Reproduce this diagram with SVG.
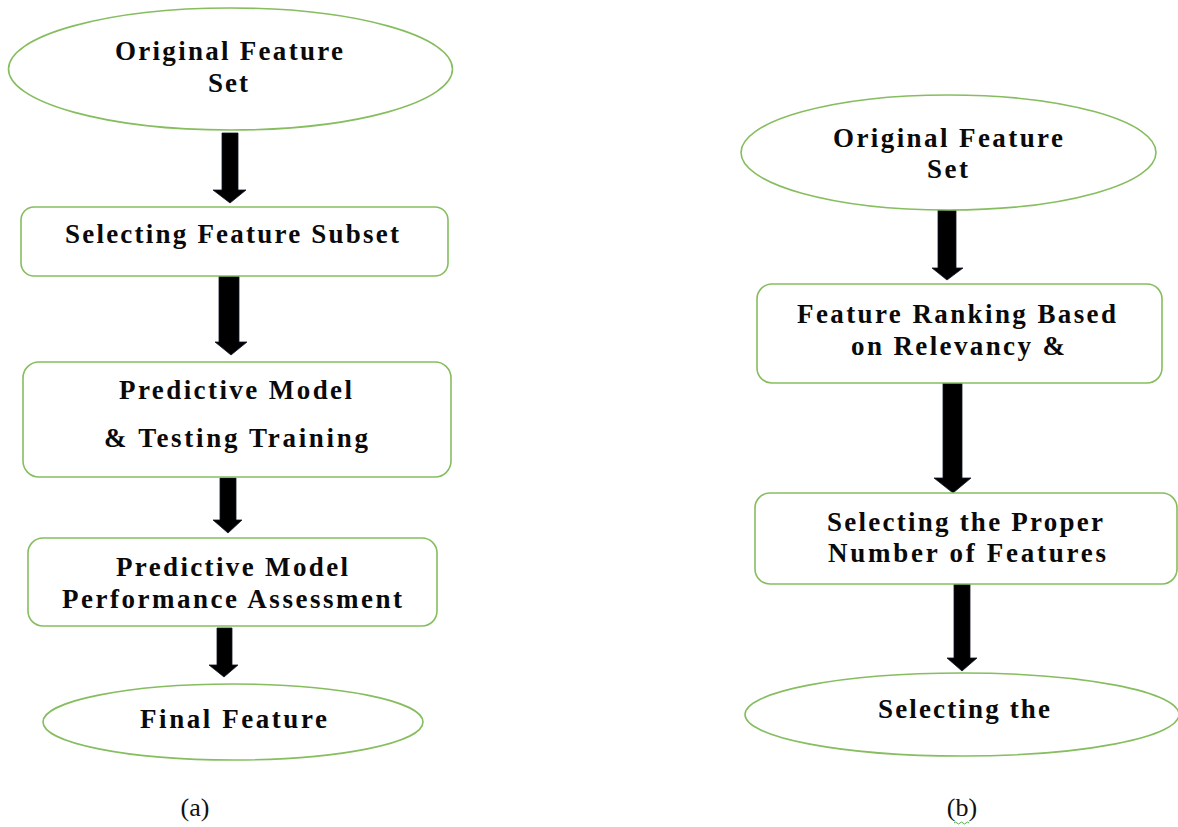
<svg xmlns="http://www.w3.org/2000/svg" width="1178" height="827" viewBox="0 0 1178 827">
<style>
.n{fill:#fff;stroke:#86bd5f;stroke-width:1.6}
.t{font-family:"Liberation Serif","Times New Roman",serif;font-weight:bold;font-size:27px;fill:#0a0a0a}
.c{font-family:"Liberation Serif","Times New Roman",serif;font-size:26px;fill:#111;text-anchor:middle}
.a{fill:#000;stroke:#10182a;stroke-width:0.8}
</style>
<rect width="1178" height="827" fill="#fff"/>
<g id="connectors">
<path class="a" d="M222,133 L238,133 L238,190 L246,190 L230,203 L213,190 L222,190 Z"/>
<path class="a" d="M219,274 L239,274 L239,342 L247,342 L231,355 L215,342 L219,342 Z"/>
<path class="a" d="M220,478 L236,478 L236,520 L242,520 L228,533 L213,520 L220,520 Z"/>
<path class="a" d="M217,628 L232,628 L232,665 L238,665 L224,677 L209,665 L217,665 Z"/>
<path class="a" d="M938,210 L956,210 L956,268 L963,268 L947,280 L932,268 L938,268 Z"/>
<path class="a" d="M943,383 L962,383 L962,478 L971,478 L953,493 L934,478 L943,478 Z"/>
<path class="a" d="M954,584 L970,584 L970,658 L977,658 L962,671 L947,658 L954,658 Z"/>
</g>
<g id="a-original">
<ellipse class="n" cx="230.5" cy="69" rx="222" ry="61"/>
<text class="t" x="115" y="60" textLength="228" lengthAdjust="spacing">Original Feature</text>
<text class="t" x="208" y="92" textLength="40" lengthAdjust="spacing">Set</text>
</g>
<g id="a-subset">
<rect class="n" x="21" y="207" width="427" height="69" rx="13"/>
<text class="t" x="65" y="243" textLength="334" lengthAdjust="spacing">Selecting Feature Subset</text>
</g>
<g id="a-training">
<rect class="n" x="23" y="362" width="428" height="115" rx="16"/>
<text class="t" x="119" y="399" textLength="233" lengthAdjust="spacing">Predictive Model</text>
<text class="t" x="104" y="447" textLength="264" lengthAdjust="spacing">&amp; Testing Training</text>
</g>
<g id="a-assessment">
<rect class="n" x="28" y="538" width="409" height="88" rx="15"/>
<text class="t" x="116" y="576" textLength="232" lengthAdjust="spacing">Predictive Model</text>
<text class="t" x="62" y="608" textLength="340" lengthAdjust="spacing">Performance Assessment</text>
</g>
<g id="a-final">
<ellipse class="n" cx="233" cy="722" rx="190" ry="38"/>
<text class="t" x="140" y="728" textLength="187" lengthAdjust="spacing">Final Feature</text>
</g>
<text class="c" x="195" y="816">(a)</text>
<g id="b-original">
<ellipse class="n" cx="948.5" cy="152.5" rx="207.5" ry="57.5"/>
<text class="t" x="833" y="147" textLength="230" lengthAdjust="spacing">Original Feature</text>
<text class="t" x="927" y="178" textLength="41" lengthAdjust="spacing">Set</text>
</g>
<g id="b-ranking">
<rect class="n" x="757" y="284" width="405" height="99" rx="15"/>
<text class="t" x="797" y="323" textLength="319" lengthAdjust="spacing">Feature Ranking Based</text>
<text class="t" x="851" y="355" textLength="214" lengthAdjust="spacing">on Relevancy &amp;</text>
</g>
<g id="b-number">
<rect class="n" x="755" y="493" width="422" height="91" rx="15"/>
<text class="t" x="827" y="531" textLength="276" lengthAdjust="spacing">Selecting the Proper</text>
<text class="t" x="828" y="562" textLength="278" lengthAdjust="spacing">Number of Features</text>
</g>
<g id="b-final">
<ellipse class="n" cx="962" cy="714.5" rx="217" ry="41.5"/>
<text class="t" x="878" y="718" textLength="172" lengthAdjust="spacing">Selecting the</text>
</g>
<text class="c" x="962" y="816">(b)</text>
<path d="M954,823 q1.5,-2 3,0 t3,0 t3,0 t3,0 t3,0" fill="none" stroke="#5aa84a" stroke-width="1"/>
</svg>
